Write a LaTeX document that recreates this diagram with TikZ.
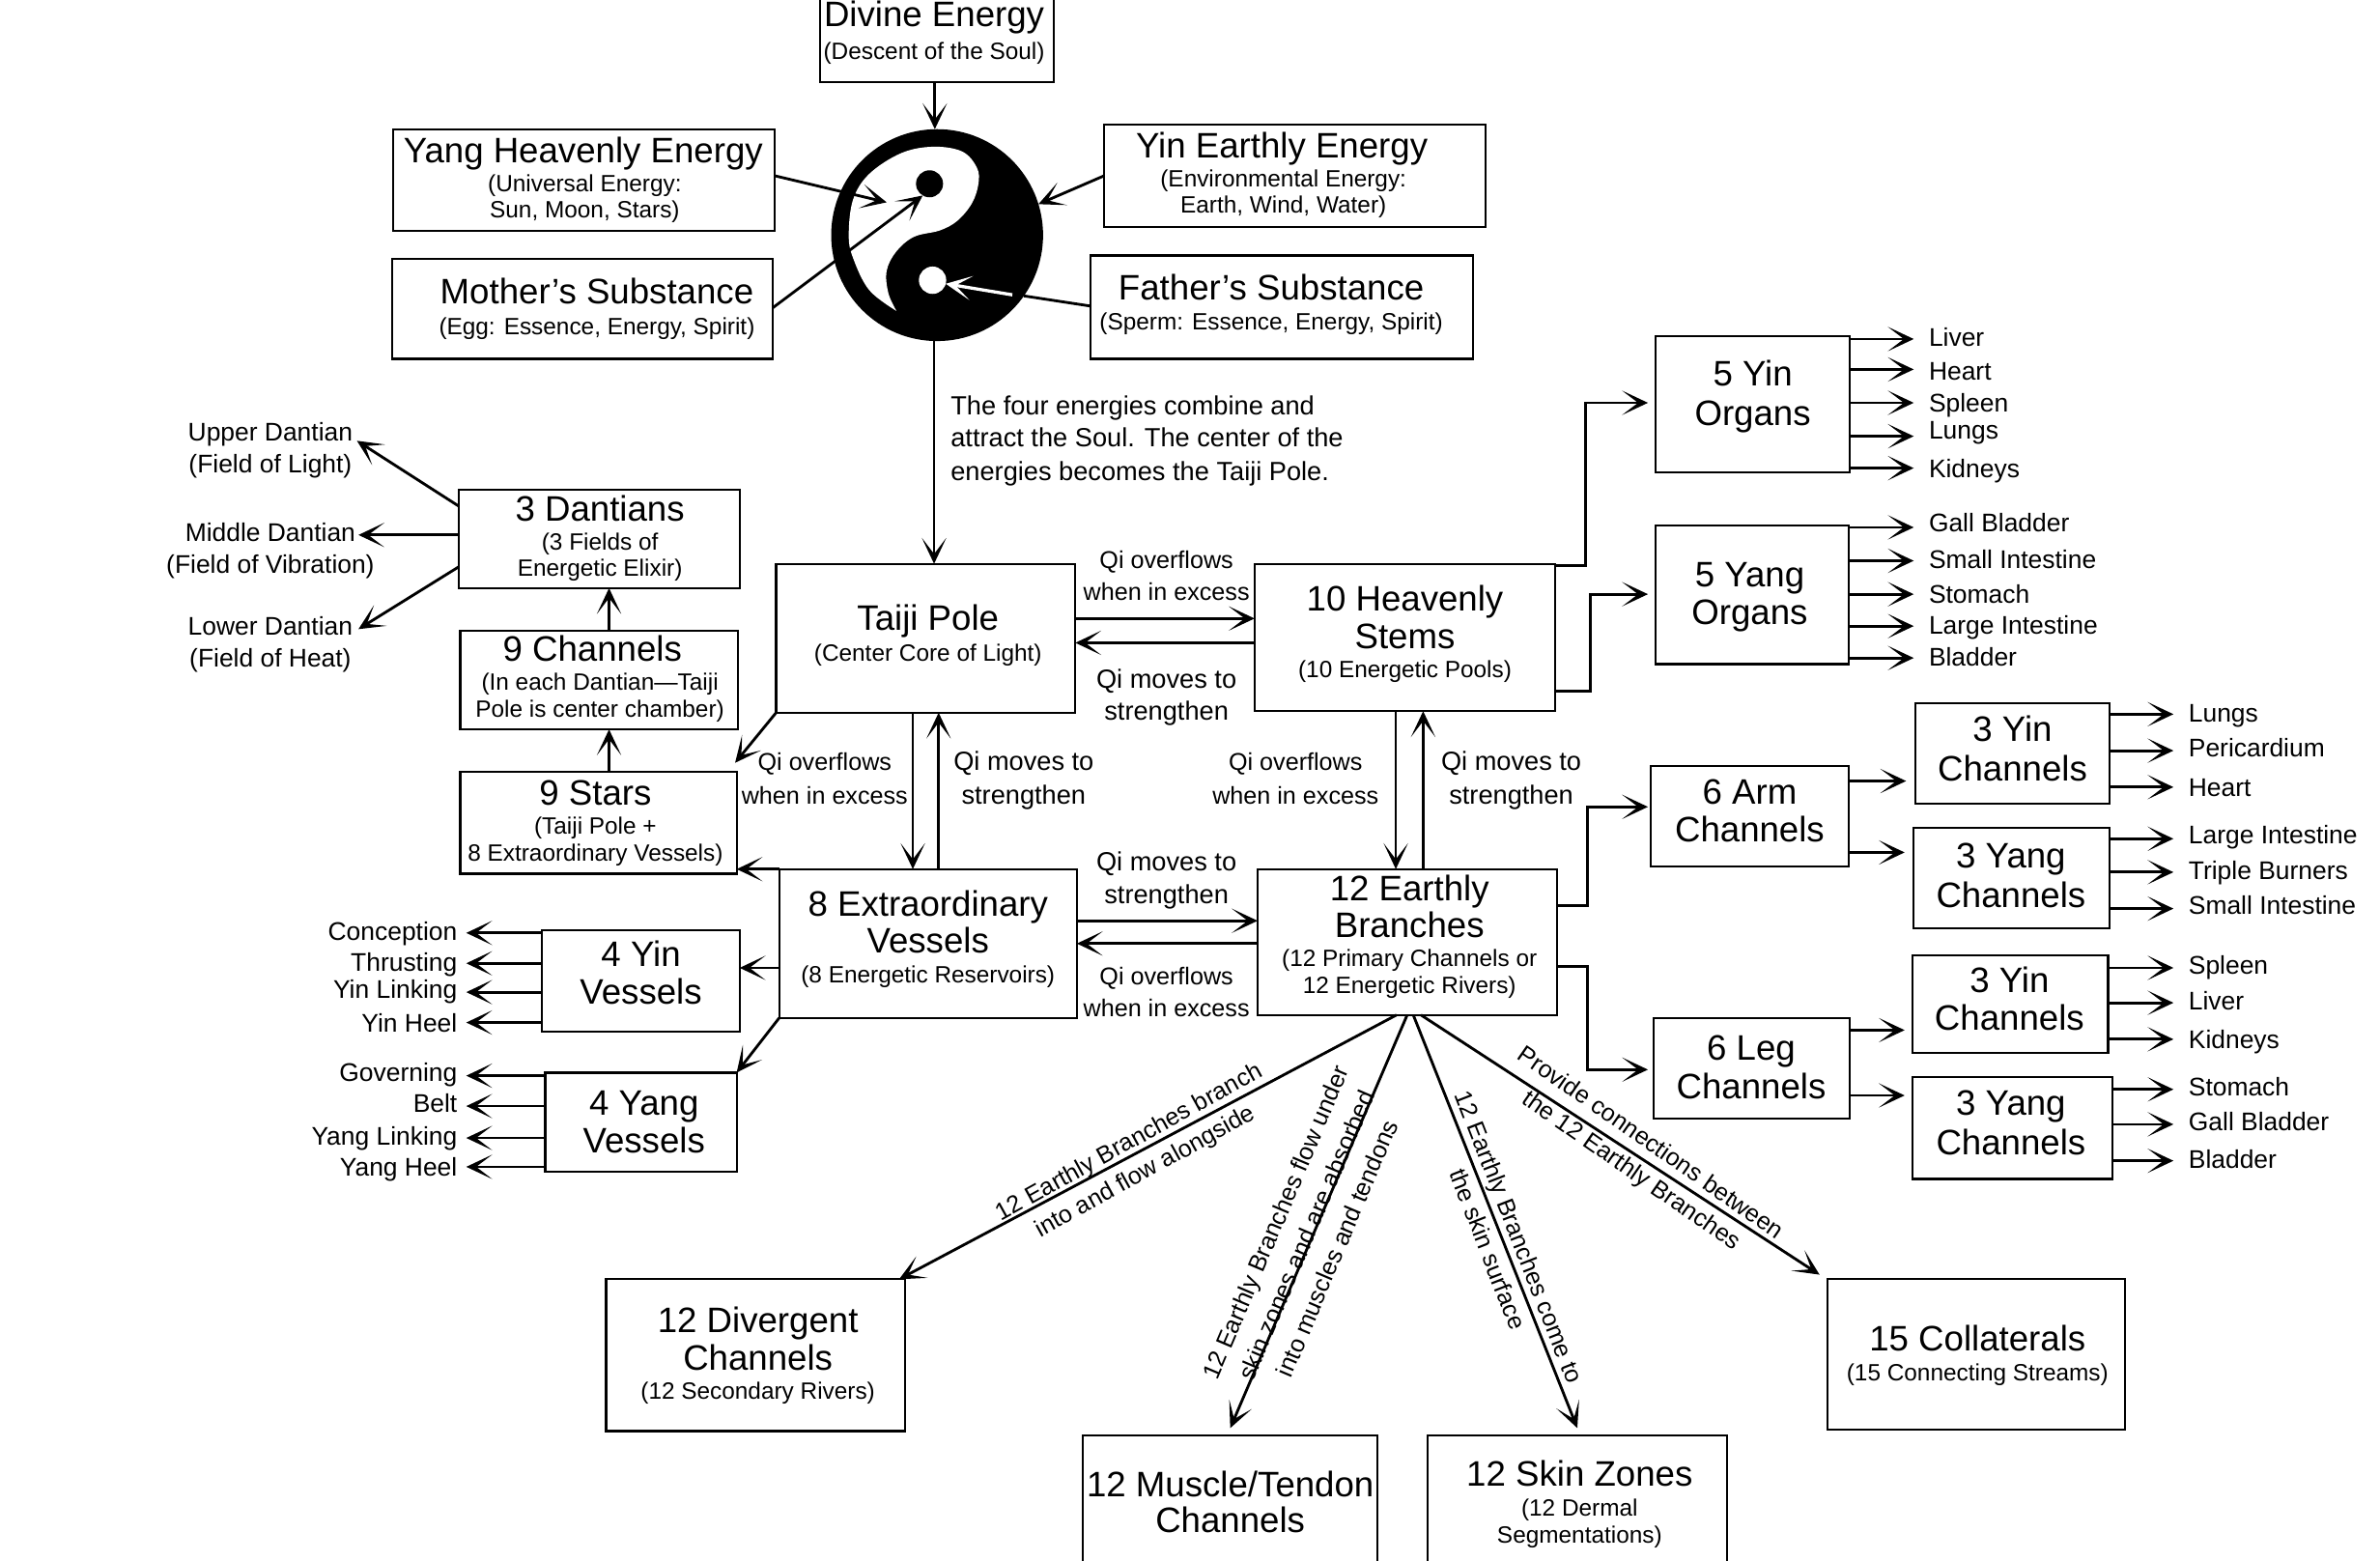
\documentclass[tikz,border=0pt]{standalone}
\usepackage{fontspec}
\setmainfont{Liberation Sans}
\usetikzlibrary{arrows.meta}
\newcommand\LnC[4]{\makebox[0pt]{\hspace*{\dimexpr(#1pt-\bxcx pt)*2\relax}\raisebox{\dimexpr\bxcy pt-#2pt\relax}[0pt][0pt]{\makebox[0pt]{\fontsize{#3}{#3}\selectfont #4}}}}
\newcommand\LnL[4]{\makebox[0pt]{\hspace*{\dimexpr(#1pt-\bxcx pt)*2\relax}\raisebox{\dimexpr\bxcy pt-#2pt\relax}[0pt][0pt]{\makebox[0pt][l]{\fontsize{#3}{#3}\selectfont #4}}}}
\newcommand\Bg[3]{\LnC{#1}{#2}{23.3}{#3}}
\newcommand\Sm[3]{\LnC{#1}{#2}{15.5}{#3}}
\newcommand\Tx[3]{\LnC{#1}{#2}{16}{#3}}
\newcommand\Tq[3]{\LnC{#1}{#2}{17.3}{#3}}
\newcommand\Td[3]{\LnC{#1}{#2}{16.8}{#3}}
\newcommand\bxn[6]{\pgfmathsetmacro\bxcx{(#2+#4)/2}\pgfmathsetmacro\bxcy{(#3+#5)/2}\pgfmathsetmacro\bxw{#4-#2}\pgfmathsetmacro\bxh{#5-#3}\node[boxn,minimum width=\bxw pt,minimum height=\bxh pt] (#1) at (\bxcx,\bxcy) {#6};}
\newcommand\txl[4]{\def\bxcx{#2}\def\bxcy{#3}\node[labn] (#1) at (#2,#3) {#4};}
\newcommand\sideR[6]{\node[side,anchor=base west] (#1) at (#3,#4) {#6};\draw[arr,shorten >=10pt] (#2.east|-0,#5) -- (#1.west|-0,#5);}
\newcommand\sideL[5]{\node[side,anchor=base east] (#1) at (301,#3) {#5};\draw[arr,shorten >=6pt] (#2.west|-0,#4) -- (#1.east|-0,#4);}
\newcommand\rotl[5]{\node[rotlab,rotate=#4] (#1) at (#2,#3) {#5};}
\tikzset{
  boxn/.style={draw=black,line width=1.4pt,inner sep=0pt,outer sep=0pt,fill=white},
  labn/.style={inner sep=0pt,outer sep=0pt},
  side/.style={inner sep=0pt,outer sep=0pt,font=\fontsize{16.8}{16.8}\selectfont},
  rotlab/.style={inner sep=0pt,align=center,font=\fontsize{16}{22}\selectfont},
  conn/.style={line width=1.8pt,draw=black},
  arr/.style={conn,-{Stealth[length=17pt,width=16pt,inset=10.5pt]}}
}
\begin{document}
\begin{tikzpicture}[x=1pt,y=-1pt]
\clip (0,-0.2) rectangle (1567,1026.9);
\fill[white] (0,-0.2) rectangle (1567,1026.9);
% top boxes
\bxn{divine}{540}{-2}{694}{54}{\Bg{615}{17}{Divine Energy}\Sm{615}{39}{(Descent of the Soul)}}
\bxn{yang}{259}{85}{510}{152}{\Bg{384}{107}{Yang Heavenly Energy}\Sm{385}{126}{(Universal Energy:}\Sm{385}{143}{Sun, Moon, Stars)}}
\bxn{yin}{727}{82}{978}{149}{\Bg{844}{104}{Yin Earthly Energy}\Sm{845}{123}{(Environmental Energy:}\Sm{845}{140}{Earth, Wind, Water)}}
\bxn{mother}{258}{170}{509}{236}{\Bg{393}{200}{Mother’s Substance}\Sm{393}{220}{(Egg: Essence, Energy, Spirit)}}
\bxn{father}{718}{168}{970}{236}{\Bg{837}{197}{Father’s Substance}\Sm{837}{217}{(Sperm: Essence, Energy, Spirit)}}
% yin yang
\node[circle,fill=black,inner sep=0pt,outer sep=0pt,minimum size=139.5pt] (yy) at (617,154.6) {};
\fill[white] plot[smooth,tension=0.6] coordinates {(590.2,204.5) (572.2,190.7) (561.6,169.5) (558.8,154.7) (561.6,131.4) (572.2,114.4) (593.4,100.6) (614.6,96.4) (633.6,99.6) (643.2,110.2) (644.2,120.8) (640,133.5) (630.4,145.1) (618.8,151.5) (601.8,155.7) (590.2,165.3) (583.8,178) (584.9,192.8) (590.2,204.5)} -- cycle;
\node[circle,fill=black,inner sep=0pt,outer sep=0pt,minimum size=17.8pt] (dotA) at (612,120.8) {};
\node[circle,fill=white,inner sep=0pt,outer sep=0pt,minimum size=18pt] (dotB) at (614,184.3) {};
\coordinate (yangtip) at (583.8,133);
\coordinate (whitetail) at (666.5,193.9);
\draw[arr] (615.5,0|-divine.south) -- (615.5,0|-yy.north);
\draw[arr] (yang.east|-0,115.5) -- (yangtip);
\draw[arr] (mother.east|-0,202.3) -- (dotA.-120);
\draw[arr] (yin.west|-0,115.5) -- (yy.17);
\draw[conn] (father.west|-0,201.3) -- (yy.-35);
\draw[arr,draw=white,fill=white,line width=2.1pt] (whitetail) -- (dotB.-15);
% main
\bxn{taiji}{511}{371}{708}{469}{\Bg{611}{415}{Taiji Pole}\Sm{611}{435}{(Center Core of Light)}}
\bxn{hs}{826}{371}{1024}{468}{\Bg{925}{402}{10 Heavenly}\Bg{925}{427}{Stems}\Sm{925}{446}{(10 Energetic Pools)}}
\bxn{ev}{513}{572}{709}{670}{\Bg{611}{603}{8 Extraordinary}\Bg{611}{627}{Vessels}\Sm{611}{647}{(8 Energetic Reservoirs)}}
\bxn{eb}{828}{572}{1025}{668}{\Bg{928}{593}{12 Earthly}\Bg{928}{617}{Branches}\Sm{928}{636}{(12 Primary Channels or}\Sm{928}{654}{12 Energetic Rivers)}}
\draw[arr] (615,0|-yy.south) -- (615,0|-taiji.north);
\txl{four}{745}{294}{\LnL{626}{273}{17.3}{The four energies combine and}\LnL{626}{294}{17.3}{attract the Soul. The center of the}\LnL{626}{316}{17.3}{energies becomes the Taiji Pole.}}
\txl{qa}{768}{385}{\Tx{768}{374}{Qi overflows}\Tx{768}{395}{when in excess}}
\txl{qb}{768}{464}{\Tq{768}{453}{Qi moves to}\Tq{768}{474}{strengthen}}
\txl{qc}{543}{518}{\Tx{543}{507}{Qi overflows}\Tx{543}{529}{when in excess}}
\txl{qd}{674}{518}{\Tq{674}{507}{Qi moves to}\Tq{674}{529}{strengthen}}
\txl{qe}{853}{518}{\Tx{853}{507}{Qi overflows}\Tx{853}{529}{when in excess}}
\txl{qf}{995}{518}{\Tq{995}{507}{Qi moves to}\Tq{995}{529}{strengthen}}
\txl{qg}{768}{584}{\Tq{768}{573}{Qi moves to}\Tq{768}{595}{strengthen}}
\txl{qh}{768}{658}{\Tx{768}{648}{Qi overflows}\Tx{768}{669}{when in excess}}
\draw[arr] (taiji.east|-0,407) -- (hs.west|-0,407);
\draw[arr] (hs.west|-0,423) -- (taiji.east|-0,423);
\draw[arr] (ev.east|-0,606) -- (eb.west|-0,606);
\draw[arr] (eb.west|-0,621) -- (ev.east|-0,621);
\draw[arr] (601,0|-taiji.south) -- (601,0|-ev.north);
\draw[arr] (618,0|-ev.north) -- (618,0|-taiji.south);
\draw[arr] (919,0|-hs.south) -- (919,0|-eb.north);
\draw[arr] (937,0|-eb.north) -- (937,0|-hs.south);
% left column
\bxn{dan}{302}{322}{487}{387}{\Bg{395}{343}{3 Dantians}\Sm{395}{362}{(3 Fields of}\Sm{395}{379}{Energetic Elixir)}}
\bxn{chan}{303}{415}{486}{480}{\Bg{390}{435}{9 Channels}\Sm{395}{454}{(In each Dantian—Taiji}\Sm{395}{472}{Pole is center chamber)}}
\bxn{stars}{303}{508}{485}{575}{\Bg{392}{530}{9 Stars}\Sm{392}{549}{(Taiji Pole +}\Sm{392}{567}{8 Extraordinary Vessels)}}
\draw[arr] (401,0|-chan.north) -- (401,0|-dan.south);
\draw[arr] (401,0|-stars.north) -- (401,0|-chan.south);
\txl{upper}{178}{300}{\Td{178}{290}{Upper Dantian}\Td{178}{311}{(Field of Light)}}
\txl{middle}{178}{366}{\Td{178}{356}{Middle Dantian}\Td{178}{377}{(Field of Vibration)}}
\txl{lower}{178}{428}{\Td{178}{418}{Lower Dantian}\Td{178}{439}{(Field of Heat)}}
\coordinate (uT) at (235,290);
\coordinate (mT) at (236,352);
\coordinate (lT) at (236,414);
\coordinate (sT) at (484,502);
\draw[arr] (dan.west|-0,333) -- (uT);
\draw[arr] (dan.west|-0,352) -- (mT);
\draw[arr] (dan.west|-0,373) -- (lT);
\draw[arr] (taiji.south west) -- (sT);
\draw[arr] (ev.north west) -- (stars.east|-0,572);
% vessels
\bxn{yinv}{357}{612}{487}{679}{\Bg{422}{636}{4 Yin}\Bg{422}{661}{Vessels}}
\bxn{yangv}{359}{706}{485}{771}{\Bg{424}{734}{4 Yang}\Bg{424}{759}{Vessels}}
\draw[arr] (ev.west|-0,637) -- (yinv.east|-0,637);
\draw[arr] (ev.south west) -- (yangv.north east);
\sideL{conc}{yinv}{619}{614}{Conception}
\sideL{thru}{yinv}{639}{634}{Thrusting}
\sideL{ylink}{yinv}{657}{653}{Yin Linking}
\sideL{yheel}{yinv}{679}{673}{Yin Heel}
\sideL{gov}{yangv}{712}{708}{Governing}
\sideL{belt}{yangv}{732}{728}{Belt}
\sideL{ylk}{yangv}{754}{749}{Yang Linking}
\sideL{yhl}{yangv}{774}{768}{Yang Heel}
% right: organs
\bxn{oyin}{1090}{221}{1218}{311}{\Bg{1154}{254}{5 Yin}\Bg{1154}{280}{Organs}}
\bxn{oyang}{1090}{346}{1217}{437}{\Bg{1152}{386}{5 Yang}\Bg{1152}{411}{Organs}}
\draw[arr,shorten >=5pt] (hs.east|-0,372) -- (1044,372) -- (1044,265) -- (oyin.west|-0,265);
\draw[arr,shorten >=5pt] (hs.east|-0,455) -- (1047,455) -- (1047,391) -- (oyang.west|-0,391);
\sideR{liver}{oyin}{1270}{228}{223}{Liver}
\sideR{heart}{oyin}{1270}{250}{243}{Heart}
\sideR{spleen}{oyin}{1270}{271}{265}{Spleen}
\sideR{lungs}{oyin}{1270}{289}{287}{Lungs}
\sideR{kid}{oyin}{1270}{314}{308}{Kidneys}
\sideR{gall}{oyang}{1270}{350}{347}{Gall Bladder}
\sideR{si}{oyang}{1270}{374}{369}{Small Intestine}
\sideR{stom}{oyang}{1270}{397}{391}{Stomach}
\sideR{li}{oyang}{1270}{417}{412}{Large Intestine}
\sideR{blad}{oyang}{1270}{438}{433}{Bladder}
% right: channels
\bxn{arm}{1087}{504}{1217}{570}{\Bg{1152}{529}{6 Arm}\Bg{1152}{554}{Channels}}
\bxn{leg}{1089}{670}{1218}{736}{\Bg{1153}{698}{6 Leg}\Bg{1153}{723}{Channels}}
\draw[arr,shorten >=2pt] (eb.east|-0,596) -- (1045,596) -- (1045,531) -- (arm.west|-0,531);
\draw[arr,shorten >=4pt] (eb.east|-0,636) -- (1045,636) -- (1045,704) -- (leg.west|-0,704);
\bxn{ayin}{1261}{463}{1389}{529}{\Bg{1325}{488}{3 Yin}\Bg{1325}{514}{Channels}}
\bxn{ayang}{1260}{545}{1389}{611}{\Bg{1324}{571}{3 Yang}\Bg{1324}{597}{Channels}}
\bxn{lyin}{1259}{629}{1388}{693}{\Bg{1323}{653}{3 Yin}\Bg{1323}{678}{Channels}}
\bxn{lyang}{1259}{709}{1391}{776}{\Bg{1324}{734}{3 Yang}\Bg{1324}{760}{Channels}}
\draw[arr,shorten >=6pt] (arm.east|-0,514) -- (ayin.west|-0,514);
\draw[arr,shorten >=6pt] (arm.east|-0,561) -- (ayang.west|-0,561);
\draw[arr,shorten >=5pt] (leg.east|-0,678) -- (lyin.west|-0,678);
\draw[arr,shorten >=5pt] (leg.east|-0,721) -- (lyang.west|-0,721);
\sideR{alu}{ayin}{1441}{475}{470}{Lungs}
\sideR{aper}{ayin}{1441}{498}{494}{Pericardium}
\sideR{ahe}{ayin}{1441}{524}{518}{Heart}
\sideR{ali}{ayang}{1441}{555}{552}{Large Intestine}
\sideR{atb}{ayang}{1441}{579}{574}{Triple Burners}
\sideR{asi}{ayang}{1441}{602}{598}{Small Intestine}
\sideR{lsp}{lyin}{1441}{641}{637}{Spleen}
\sideR{lli}{lyin}{1441}{665}{660}{Liver}
\sideR{lki}{lyin}{1441}{690}{684}{Kidneys}
\sideR{lst}{lyang}{1441}{721}{717}{Stomach}
\sideR{lga}{lyang}{1441}{744}{740}{Gall Bladder}
\sideR{lbl}{lyang}{1441}{769}{764}{Bladder}
% bottom
\bxn{div}{399}{842}{596}{942}{\Bg{499}{877}{12 Divergent}\Bg{499}{902}{Channels}\Sm{499}{921}{(12 Secondary Rivers)}}
\bxn{mus}{713}{945}{907}{1040}{\Bg{810}{985}{12 Muscle/Tendon}\Bg{810}{1009}{Channels}}
\bxn{skin}{940}{945}{1137}{1040}{\Bg{1040}{978}{12 Skin Zones}\Sm{1040}{998}{(12 Dermal}\Sm{1040}{1016}{Segmentations)}}
\bxn{col}{1203}{842}{1399}{941}{\Bg{1302}{889}{15 Collaterals}\Sm{1302}{909}{(15 Connecting Streams)}}
\draw[arr] ([xshift=-7pt]eb.south) -- ([xshift=-4pt]div.north east);
\draw[arr] (eb.south) -- ([yshift=5pt]mus.north);
\draw[arr] ([xshift=4pt]eb.south) -- ([yshift=5pt]skin.north);
\draw[arr] ([xshift=9pt]eb.south) -- ([shift={(-5pt,3pt)}]col.north west);
\rotl{ra}{749}{762}{29}{12 Earthly Branches branch\\into and flow alongside}
\rotl{rb}{860}{813}{67}{12 Earthly Branches flow under\\skin zones and are absorbed\\into muscles and tendons}
\rotl{rc}{990}{818}{-68.7}{12 Earthly Branches come to\\the skin surface}
\rotl{rd}{1080}{762}{-34.8}{Provide connections between\\the 12 Earthly Branches}
\end{tikzpicture}
\end{document}
